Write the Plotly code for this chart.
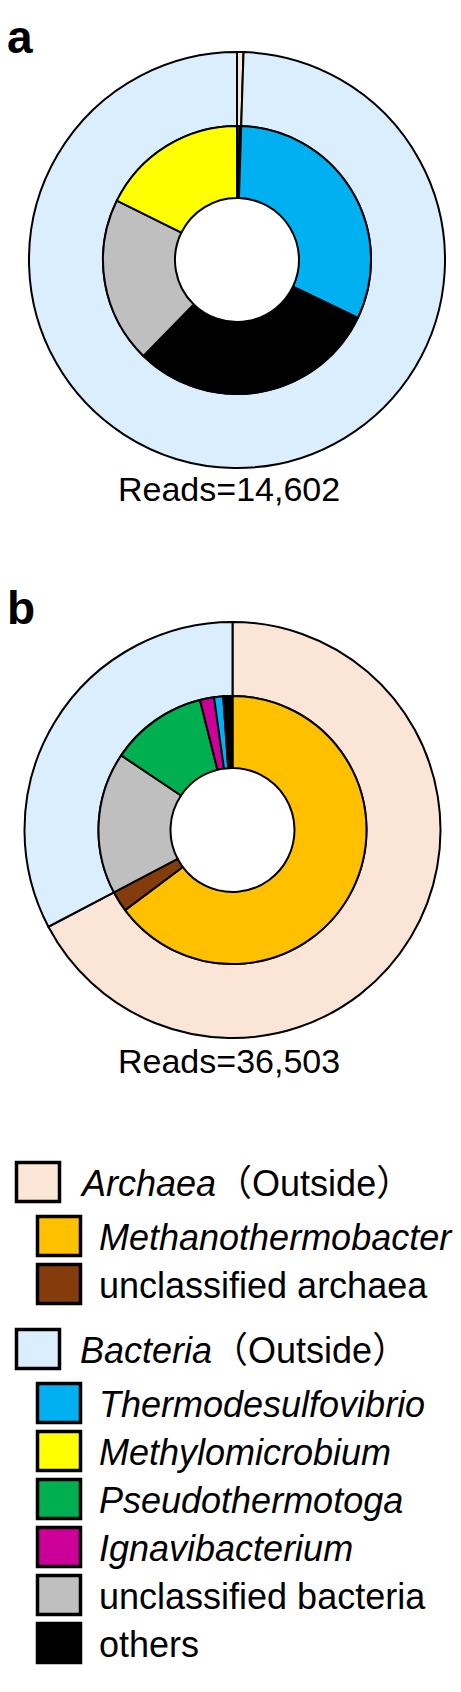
import plotly.graph_objects as go

W, H = 461, 1692
FONT = "Liberation Sans, Arial, Noto Sans CJK JP, sans-serif"

# outer ring: domains
domains = ["Archaea", "Bacteria"]
domain_colors = ["#FBE5D6", "#DAEEFD"]
outer_a = [0.5, 99.5]
outer_b = [67.3, 32.7]

# inner ring: genera (order as drawn, clockwise from 12 o'clock)
inner_a_labels = ["Methanothermobacter", "unclassified archaea", "Thermodesulfovibrio",
                  "others", "unclassified bacteria", "Methylomicrobium"]
inner_a_values = [0.3, 0.2, 31.6, 30.2, 20.0, 17.7]
inner_b_labels = ["Methanothermobacter", "unclassified archaea", "unclassified bacteria",
                  "Pseudothermotoga", "Ignavibacterium", "Thermodesulfovibrio", "others"]
inner_b_values = [64.8, 2.5, 17.1, 11.7, 1.7, 1.1, 1.1]

reads = ["Reads=14,602", "Reads=36,503"]
panel_letters = ["a", "b"]

genus_colors = {
    "Methanothermobacter": "#FFC000",
    "unclassified archaea": "#843C0C",
    "Thermodesulfovibrio": "#00B0F0",
    "Methylomicrobium": "#FFFF00",
    "Pseudothermotoga": "#00B050",
    "Ignavibacterium": "#CC0099",
    "unclassified bacteria": "#BFBFBF",
    "others": "#000000",
}

legend_groups = [
    ("<i>Archaea</i>（Outside）", domain_colors[0],
     ["Methanothermobacter", "unclassified archaea"]),
    ("<i>Bacteria</i>（Outside）", domain_colors[1],
     ["Thermodesulfovibrio", "Methylomicrobium", "Pseudothermotoga",
      "Ignavibacterium", "unclassified bacteria", "others"]),
]
italic_names = ["Methanothermobacter", "Thermodesulfovibrio", "Methylomicrobium",
                "Pseudothermotoga", "Ignavibacterium"]


def dom(cx, cy, r):
    return dict(x=[(cx - r) / W, (cx + r) / W], y=[1 - (cy + r) / H, 1 - (cy - r) / H])


fig = go.Figure()

panels = [
    (229, 252, outer_a, inner_a_labels, inner_a_values),
    (224.5, 822, outer_b, inner_b_labels, inner_b_values),
]
r_out, r_mid, r_hole = 208, 134, 62
for cx, cy, outer_vals, in_labels, in_vals in panels:
    fig.add_trace(go.Pie(
        labels=domains, values=outer_vals, sort=False, direction="clockwise",
        rotation=0, hole=r_mid / r_out, domain=dom(cx, cy, r_out),
        marker=dict(colors=domain_colors, line=dict(color="black", width=2)),
        textinfo="none", hoverinfo="label+percent", showlegend=False,
    ))
    fig.add_trace(go.Pie(
        labels=in_labels, values=in_vals, sort=False, direction="clockwise",
        rotation=0, hole=r_hole / r_mid, domain=dom(cx, cy, r_mid),
        marker=dict(colors=[genus_colors[l] for l in in_labels],
                    line=dict(color="black", width=2)),
        textinfo="none", hoverinfo="label+percent", showlegend=False,
    ))

shapes = []
annotations = []


def px_x(x):
    return x / W


def px_y(y):
    return 1 - y / H


# panel letters and read counts
for letter, ly in zip(panel_letters, [29, 600]):
    annotations.append(dict(x=px_x(-3), y=px_y(ly), xref="paper", yref="paper",
                            text="<b>%s</b>" % letter, showarrow=False,
                            xanchor="left", yanchor="middle",
                            font=dict(family=FONT, size=46, color="black")))
for txt, ry in zip(reads, [481, 1053]):
    annotations.append(dict(x=px_x(221), y=px_y(ry), xref="paper", yref="paper",
                            text=txt, showarrow=False, xanchor="center", yanchor="middle",
                            font=dict(family=FONT, size=34, color="black")))

# legend
y = 1174
for gi, (head, hcol, members) in enumerate(legend_groups):
    if gi > 0:
        y += 65
    rows = [(head, hcol, 0)] + [
        ("<i>%s</i>" % m if m in italic_names else m, genus_colors[m], 1) for m in members
    ]
    for ri, (txt, col, lvl) in enumerate(rows):
        if ri == 1:
            y += 54
        elif ri > 1:
            y += 48
        bx = 8.5 if lvl == 0 else 29.5
        shapes.append(dict(type="rect", xref="paper", yref="paper",
                           x0=px_x(bx), x1=px_x(bx + 43),
                           y0=px_y(y + 19.5), y1=px_y(y - 19.5),
                           fillcolor=col, line=dict(color="black", width=3.5)))
        annotations.append(dict(x=px_x(70 if lvl == 0 else 89), y=px_y(y + 1),
                                xref="paper", yref="paper", text=txt, showarrow=False,
                                xanchor="left", yanchor="middle",
                                font=dict(family=FONT, size=36, color="black")))

fig.update_layout(
    width=W, height=H,
    margin=dict(l=0, r=0, t=0, b=0),
    paper_bgcolor="white", plot_bgcolor="white",
    shapes=shapes, annotations=annotations,
)

fig.write_html("out.html")
